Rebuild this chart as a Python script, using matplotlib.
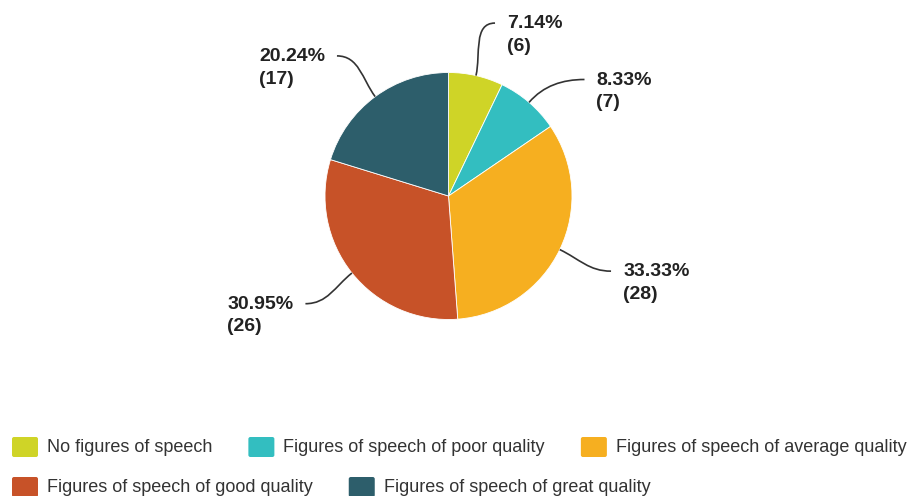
import numpy as np
import matplotlib
matplotlib.use("Agg")
import matplotlib.pyplot as plt
from matplotlib.path import Path
from matplotlib.patches import PathPatch, FancyBboxPatch

# Survey answers: use of figures of speech
categories = [
    "No figures of speech",
    "Figures of speech of poor quality",
    "Figures of speech of average quality",
    "Figures of speech of good quality",
    "Figures of speech of great quality",
]
counts = [6, 7, 28, 26, 17]
colors = ["#CFD427", "#33BEC0", "#F6AF20", "#C75228", "#2D5E6B"]

# Label layout: small angular nudges (degrees) of each label anchor
label_shift = [-2.2, -8.7, 0.9, -1.6, 2.1]

W, H = 919, 496
fig = plt.figure(figsize=(W / 100, H / 100), dpi=100)
ax = fig.add_axes([0, 0, 1, 1])

cx, cy, r = 448.5, H - 196, 123.5
wedges, _ = ax.pie(counts, colors=colors, startangle=90, counterclock=False,
                   center=(cx, cy), radius=r,
                   wedgeprops=dict(edgecolor="white", linewidth=0.6))
ax.set_xlim(0, W)
ax.set_ylim(0, H)
ax.set_aspect("equal")
ax.axis("off")

total = sum(counts)
label_font = dict(family="Liberation Sans", size=14, weight="bold", color="#222222")
for w, n, shift in zip(wedges, counts, label_shift):
    mid = np.deg2rad((w.theta1 + w.theta2) / 2)
    p0 = np.array([cx + r * np.cos(mid), cy + r * np.sin(mid)])
    ang = mid + np.deg2rad(shift)
    p3 = np.array([cx + 1.45 * r * np.cos(ang), cy + 1.45 * r * np.sin(ang)])
    side = 1 if np.cos(ang) >= 0 else -1
    radial = np.array([np.cos(mid), np.sin(mid)])
    p1 = p0 + radial * 22
    p2 = p3 - np.array([side * 22, 0])
    path = Path([p0, p1, p2, p3], [Path.MOVETO, Path.CURVE4, Path.CURVE4, Path.CURVE4])
    ax.add_patch(PathPatch(path, fill=False, edgecolor="#333333", linewidth=1.2))
    txt = f"{100 * n / total:.2f}%\n({n})"
    ax.text(p3[0] + side * 12, p3[1] - 12, txt,
            ha="left" if side > 0 else "right", va="center",
            multialignment="left", linespacing=1.42, **label_font)

# Flowing legend along the bottom
legend_font = dict(family="Liberation Sans", size=13, color="#333333")
renderer = fig.canvas.get_renderer()
box_w, box_h = 26, 20
pad, gap = 9, 36
x, row_y = 12, H - 447
for name, col in zip(categories, colors):
    t = ax.text(0, 0, name, **legend_font)
    bb = t.get_window_extent(renderer)
    t.remove()
    item_w = box_w + pad + bb.width
    if x + item_w > W:
        x = 12
        row_y -= 40
    ax.add_patch(FancyBboxPatch((x + 2, row_y - box_h / 2 + 2), box_w - 4, box_h - 4,
                                boxstyle="round,pad=2", facecolor=col, edgecolor="none"))
    ax.text(x + box_w + pad, row_y, name, ha="left", va="center", **legend_font)
    x += item_w + gap

fig.savefig("out.png", dpi=100, facecolor="white")
